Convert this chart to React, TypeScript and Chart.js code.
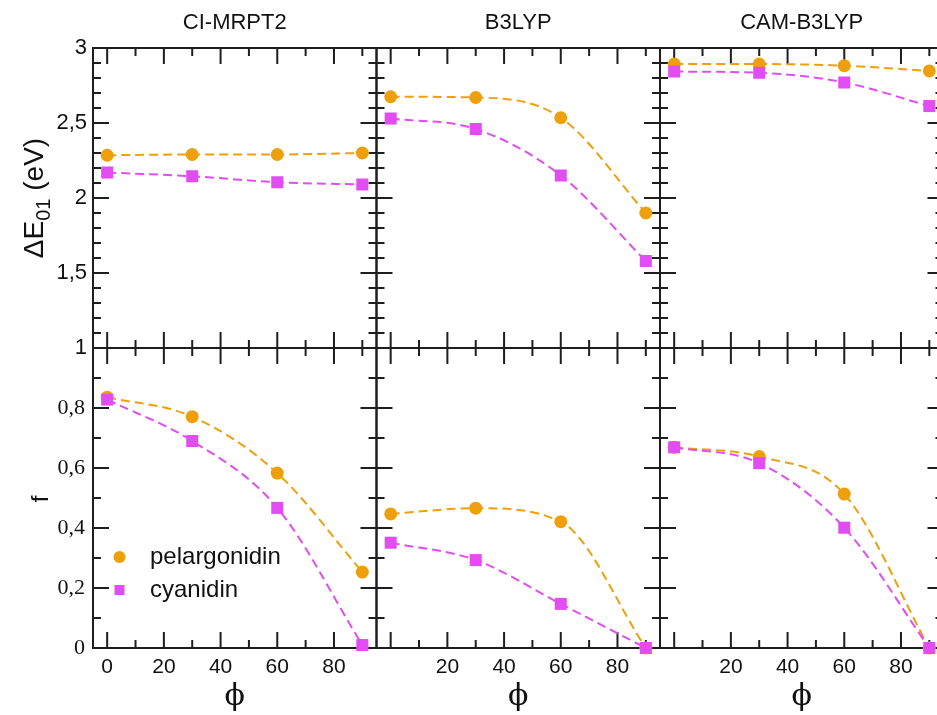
import React, { useEffect, useRef } from 'react';
import { Chart, registerables } from 'chart.js';

Chart.register(...registerables);

// ---------- data ----------
const phi = [0, 30, 60, 90];
const methods = ['CI-MRPT2', 'B3LYP', 'CAM-B3LYP'];
const seriesNames = ['pelargonidin', 'cyanidin'];

// ΔE01 (eV), top row
const dePelargonidinCIMRPT2 = [2.285, 2.29, 2.29, 2.3];
const deCyanidinCIMRPT2 = [2.17, 2.145, 2.105, 2.09];
const dePelargonidinB3LYP = [2.675, 2.67, 2.535, 1.9];
const deCyanidinB3LYP = [2.53, 2.46, 2.15, 1.58];
const dePelargonidinCAM = [2.893, 2.893, 2.882, 2.847];
const deCyanidinCAM = [2.843, 2.835, 2.77, 2.613];

// f, bottom row
const fPelargonidinCIMRPT2 = [0.836, 0.771, 0.583, 0.253];
const fCyanidinCIMRPT2 = [0.828, 0.69, 0.467, 0.01];
const fPelargonidinB3LYP = [0.447, 0.466, 0.421, 0.0];
const fCyanidinB3LYP = [0.351, 0.293, 0.147, 0.0];
const fPelargonidinCAM = [0.669, 0.638, 0.513, 0.0];
const fCyanidinCAM = [0.669, 0.616, 0.401, 0.0];

// tick labels
const xTickLabels = [0, 20, 40, 60, 80];
const energyTickLabels = [1, 1.5, 2, 2.5, 3];
const fTickLabels = [0, 0.2, 0.4, 0.6, 0.8];

// ---------- style ----------
const ORANGE = '#EEA00C';
const MAGENTA = '#E14DF2';
const AXIS = '#1e1e1e';
const COLS = [93, 376.5, 660, 943.5];
const ROWS = [48, 348, 648];
const CW = 960;
const CH = 715;
const MAJOR_LEN = 16;
const MINOR_LEN = 8;

const rowData = [
  [
    [dePelargonidinCIMRPT2, deCyanidinCIMRPT2],
    [dePelargonidinB3LYP, deCyanidinB3LYP],
    [dePelargonidinCAM, deCyanidinCAM],
  ],
  [
    [fPelargonidinCIMRPT2, fCyanidinCIMRPT2],
    [fPelargonidinB3LYP, fCyanidinB3LYP],
    [fPelargonidinCAM, fCyanidinCAM],
  ],
];

const near = (a: number, b: number) => Math.abs(a - b) < 1e-6;
const fmt = (v: number) => String(+v.toFixed(2)).replace('.', ',');

type T = { v: number; major: boolean };

function makeFramePlugin(xTicks: T[], yTicks: T[]) {
  return {
    id: 'frameTicks',
    beforeDatasetsDraw(chart: any) {
      const { ctx, chartArea: a } = chart;
      const xs = chart.scales.x;
      const ys = chart.scales.y;
      ctx.save();
      ctx.strokeStyle = AXIS;
      ctx.lineWidth = 2;
      ctx.beginPath();
      for (const t of xTicks) {
        const p = xs.getPixelForValue(t.v);
        const len = t.major ? MAJOR_LEN : MINOR_LEN;
        ctx.moveTo(p, a.bottom);
        ctx.lineTo(p, a.bottom - len);
        ctx.moveTo(p, a.top);
        ctx.lineTo(p, a.top + len);
      }
      for (const t of yTicks) {
        const p = ys.getPixelForValue(t.v);
        const len = t.major ? MAJOR_LEN : MINOR_LEN;
        ctx.moveTo(a.left, p);
        ctx.lineTo(a.left + len, p);
        ctx.moveTo(a.right, p);
        ctx.lineTo(a.right - len, p);
      }
      ctx.stroke();
      ctx.strokeRect(a.left, a.top, a.right - a.left, a.bottom - a.top);
      ctx.restore();
    },
  };
}

const legendPlugin = {
  id: 'insideLegend',
  afterDatasetsDraw(chart: any) {
    const { ctx, chartArea: a } = chart;
    const ds = chart.data.datasets;
    ctx.save();
    ctx.font = '24px "Liberation Sans", Arial, sans-serif';
    ctx.textBaseline = 'alphabetic';
    ctx.textAlign = 'left';
    const entries = [
      { name: seriesNames[0], d: ds.find((d: any) => d.label === seriesNames[0]), y: a.top + 209 },
      { name: seriesNames[1], d: ds.find((d: any) => d.label === seriesNames[1]), y: a.top + 242 },
    ];
    for (const e of entries) {
      const mx = a.left + 26.5;
      ctx.fillStyle = e.d.backgroundColor;
      if (e.d.pointStyle === 'circle') {
        ctx.beginPath();
        ctx.arc(mx, e.y, 6, 0, Math.PI * 2);
        ctx.fill();
      } else {
        ctx.fillRect(mx - 5, e.y - 5, 10, 10);
      }
      ctx.fillStyle = '#111';
      ctx.fillText(e.name, a.left + 57, e.y + 7);
    }
    ctx.restore();
  },
};

function Panel({ row, col }: { row: number; col: number }) {
  const ref = useRef<HTMLCanvasElement>(null);
  useEffect(() => {
    const isTop = row === 0;
    const yMin = isTop ? 1 : 0;
    const yMax = isTop ? 3 : 1;
    const yMajorStep = isTop ? 0.5 : 0.2;
    const yLabels = isTop ? energyTickLabels : fTickLabels;

    const yTicks: T[] = [];
    for (let k = 0; ; k++) {
      const v = +(yMin + k * 0.1).toFixed(3);
      if (v > yMax + 1e-9) break;
      const r = v / yMajorStep;
      yTicks.push({ v, major: near(r, Math.round(r)) });
    }
    const xTicks: T[] = [];
    for (let v = 0; v <= 90; v += 10) xTicks.push({ v, major: v % 20 === 0 });

    const [pel, cya] = rowData[row][col];

    const showX = row === 1;
    const showY = col === 0;
    const padL = COLS[col];
    const padB = CH - ROWS[row + 1];

    const common = {
      borderWidth: 2,
      borderDash: [9, 5],
      tension: 0.4,
      cubicInterpolationMode: 'monotone',
      fill: false,
      pointBorderWidth: 0,
      clip: false,
    };

    const chart = new Chart(ref.current as HTMLCanvasElement, {
      type: 'line',
      data: {
        datasets: [
          {
            ...common,
            label: seriesNames[1],
            data: phi.map((x, i) => ({ x, y: cya[i] })),
            borderColor: MAGENTA,
            backgroundColor: MAGENTA,
            pointStyle: 'rect',
            pointRadius: 8.5,
            order: 0,
          } as any,
          {
            ...common,
            label: seriesNames[0],
            data: phi.map((x, i) => ({ x, y: pel[i] })),
            borderColor: ORANGE,
            backgroundColor: ORANGE,
            pointStyle: 'circle',
            pointRadius: 6.5,
            order: 1,
          } as any,
        ],
      },
      options: {
        responsive: false,
        animation: false,
        devicePixelRatio: 1,
        events: [],
        layout: {
          padding: {
            left: showY ? 0 : padL,
            right: CW - COLS[col + 1],
            top: ROWS[row],
            bottom: showX ? 0 : padB,
          },
        },
        plugins: {
          legend: { display: false },
          tooltip: { enabled: false },
          title: { display: false },
        },
        scales: {
          x: {
            type: 'linear',
            min: -5,
            max: 95,
            grid: { display: false, drawTicks: false },
            border: { display: false },
            afterBuildTicks: (s: any) => {
              s.ticks = xTicks.map((t) => ({ value: t.v }));
            },
            afterFit: (s: any) => {
              s.height = showX ? padB : 0;
            },
            ticks: {
              display: showX,
              autoSkip: false,
              maxRotation: 0,
              padding: 7,
              color: '#111',
              font: { family: '"Liberation Sans", Arial, sans-serif', size: 21 },
              callback: (v: any) => {
                const n = Number(v);
                if (!xTickLabels.some((l) => near(l, n))) return '';
                if (col > 0 && near(n, 0)) return '';
                return String(n);
              },
            },
          },
          y: {
            type: 'linear',
            min: yMin,
            max: yMax,
            grid: { display: false, drawTicks: false },
            border: { display: false },
            afterBuildTicks: (s: any) => {
              s.ticks = yTicks.map((t) => ({ value: t.v }));
            },
            afterFit: (s: any) => {
              s.width = showY ? padL : 0;
            },
            ticks: {
              display: showY,
              autoSkip: false,
              padding: isTop ? 6 : 8,
              color: '#111',
              font: isTop
                ? { family: '"Liberation Sans", Arial, sans-serif', size: 22 }
                : { family: '"Liberation Serif", "Times New Roman", serif', size: 22 },
              callback: (v: any) => {
                const n = Number(v);
                return yLabels.some((l) => near(l, n)) ? fmt(n) : '';
              },
            },
          },
        },
      } as any,
      plugins: row === 1 && col === 0
        ? [makeFramePlugin(xTicks, yTicks), legendPlugin]
        : [makeFramePlugin(xTicks, yTicks)],
    });
    return () => chart.destroy();
  }, [row, col]);
  return (
    <canvas
      ref={ref}
      width={CW}
      height={CH}
      style={{ position: 'absolute', left: 0, top: 0, width: CW, height: CH }}
    />
  );
}

const sans = '"Liberation Sans", Arial, Helvetica, sans-serif';
const serif = '"DejaVu Serif", "Liberation Serif", serif';

export default function App() {
  const panels: JSX.Element[] = [];
  for (let r = 0; r < 2; r++) {
    for (let c = 0; c < 3; c++) panels.push(<Panel key={`${r}-${c}`} row={r} col={c} />);
  }
  return (
    <div
      style={{
        position: 'fixed',
        left: 0,
        top: 0,
        width: 937,
        height: 715,
        overflow: 'hidden',
        background: '#fff',
        color: '#111',
        fontFamily: sans,
      }}
    >
      {panels}
      {methods.map((m, c) => (
        <div
          key={m}
          style={{
            position: 'absolute',
            left: (COLS[c] + COLS[c + 1]) / 2,
            top: 11,
            transform: 'translateX(-50%)',
            fontSize: 22,
            lineHeight: '22px',
            whiteSpace: 'nowrap',
          }}
        >
          {m}
        </div>
      ))}
      {methods.map((m, c) => (
        <div
          key={'phi' + m}
          style={{
            position: 'absolute',
            left: (COLS[c] + COLS[c + 1]) / 2,
            top: 680,
            transform: 'translateX(-50%)',
            fontSize: 30,
            lineHeight: '30px',
            fontFamily: serif,
            whiteSpace: 'nowrap',
          }}
        >
          ϕ
        </div>
      ))}
      <div
        style={{
          position: 'absolute',
          left: 34,
          top: 198,
          transform: 'translate(-50%, -50%) rotate(-90deg)',
          fontSize: 28,
          lineHeight: '32px',
          whiteSpace: 'nowrap',
        }}
      >
        ΔE<sub style={{ fontSize: 20, verticalAlign: -7, lineHeight: 0 }}>01</sub> (eV)
      </div>
      <div
        style={{
          position: 'absolute',
          left: 40,
          top: 499,
          transform: 'translate(-50%, -50%) rotate(-90deg)',
          fontSize: 24,
          lineHeight: '26px',
          whiteSpace: 'nowrap',
        }}
      >
        f
      </div>
    </div>
  );
}
